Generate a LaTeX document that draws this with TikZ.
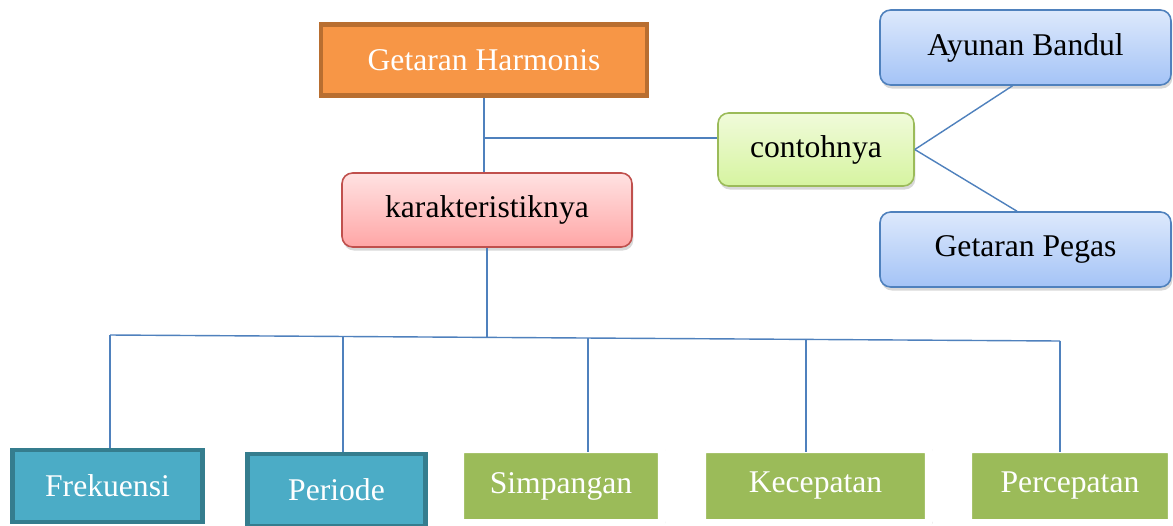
\documentclass[tikz,border=0pt]{standalone}
\usepackage{fontspec}
\setmainfont{Liberation Serif}
\usetikzlibrary{shadows}

\definecolor{linkblue}{HTML}{4F81BD}
\definecolor{orgfill}{HTML}{F79646}
\definecolor{orgline}{HTML}{B86E30}
\definecolor{tealfill}{HTML}{4BACC6}
\definecolor{tealline}{HTML}{357D8E}
\definecolor{olivefill}{HTML}{9BBB59}
\definecolor{pinktop}{HTML}{FFE2E2}
\definecolor{pinkbot}{HTML}{FFA6A6}
\definecolor{pinkline}{HTML}{C0504D}
\definecolor{limetop}{HTML}{F0FBDA}
\definecolor{limebot}{HTML}{D6F4A0}
\definecolor{bluetop}{HTML}{DDE9FC}
\definecolor{bluebot}{HTML}{A4C3F6}

\begin{document}
\begin{tikzpicture}[x=0.02cm, y=-0.02cm,
  txt/.style={font=\fontsize{18}{22}\selectfont, inner sep=0pt},
  soft/.style={drop shadow={shadow xshift=0.8pt, shadow yshift=-2pt, opacity=0.3}},
  titlebox/.style={txt, text=white, fill=orgfill, draw=orgline, line width=2.8pt},
  pinkbox/.style={txt, rounded corners=6pt, top color=pinktop, bottom color=pinkbot, draw=pinkline, line width=0.9pt, soft},
  limebox/.style={txt, rounded corners=6pt, top color=limetop, bottom color=limebot, draw=olivefill, line width=0.9pt, soft},
  bluebox/.style={txt, rounded corners=6pt, top color=bluetop, bottom color=bluebot, draw=linkblue, line width=0.9pt, soft},
  tealbox/.style={txt, text=white, fill=tealfill, draw=tealline, line width=2.8pt},
  olivebox/.style={txt, text=white, fill=olivefill, draw=white, line width=0.16cm, rounded corners=1.5pt,
    drop shadow={shadow xshift=0.3pt, shadow yshift=-0.3pt, shadow scale=1.03, opacity=0.3}},
  link/.style={draw=linkblue, line width=0.8pt}]

  \clip (0,0) rectangle (1173,525);
  \fill[white] (0,0) rectangle (1173,525);

  %% top part
  \node[titlebox, minimum width=6.52cm, minimum height=1.42cm] (harmonis) at (484,60) {Getaran Harmonis};
  \node[pinkbox, minimum width=5.8cm, minimum height=1.48cm] (karakter) at (487,210) {karakteristiknya};
  \node[limebox, minimum width=3.92cm, minimum height=1.46cm] (contoh) at (816,149.5) {contohnya};
  \node[bluebox, minimum width=5.82cm, minimum height=1.5cm] (bandul) at (1025.5,47.5) {Ayunan Bandul};
  \node[bluebox, minimum width=5.82cm, minimum height=1.5cm] (pegas) at (1025.5,249.5) {Getaran Pegas};

  %% bottom row
  \node[tealbox, minimum width=3.8cm, minimum height=1.44cm] (frekuensi) at (107.5,486) {Frekuensi};
  \node[tealbox, minimum width=3.56cm, minimum height=1.44cm] (periode) at (336.5,490) {Periode};
  \node[olivebox, minimum width=4.04cm, minimum height=1.48cm] (simpangan) at (561,486) {Simpangan};
  \node[olivebox, minimum width=4.54cm, minimum height=1.48cm] (kecepatan) at (815.5,486) {Kecepatan};
  \node[olivebox, minimum width=4.08cm, minimum height=1.48cm] (percepatan) at (1070,486) {Percepatan};

  \coordinate (split) at (484,138);
  \coordinate (b1) at (110,335);
  \coordinate (b2) at (343,336);
  \coordinate (b3) at (588,338);
  \coordinate (b4) at (806,339);
  \coordinate (b5) at (1060,341);

  \draw[link] (harmonis.south) -- (harmonis.south |- karakter.north); %% harmonis->karakter
  \draw[link] (split) -- (split -| contoh.west); %% -> contoh
  \draw[link] (contoh.east) -- ([xshift=-0.26cm]bandul.south); %% contoh->bandul
  \draw[link] (contoh.east) -- ([xshift=-0.17cm]pegas.north); %% contoh->pegas

  \draw[link] (karakter.south) -- (karakter.south |- b3);
  \draw[link] (b1) -- (b5);
  \draw[link] (b1) -- (b1 |- frekuensi.north);
  \draw[link] (b2) -- (b2 |- periode.north);
  \draw[link] (b3) -- ([yshift=-0.14cm]b3 |- simpangan.north);
  \draw[link] (b4) -- ([yshift=-0.14cm]b4 |- kecepatan.north);
  \draw[link] (b5) -- ([yshift=-0.14cm]b5 |- percepatan.north);
\end{tikzpicture}
\end{document}
